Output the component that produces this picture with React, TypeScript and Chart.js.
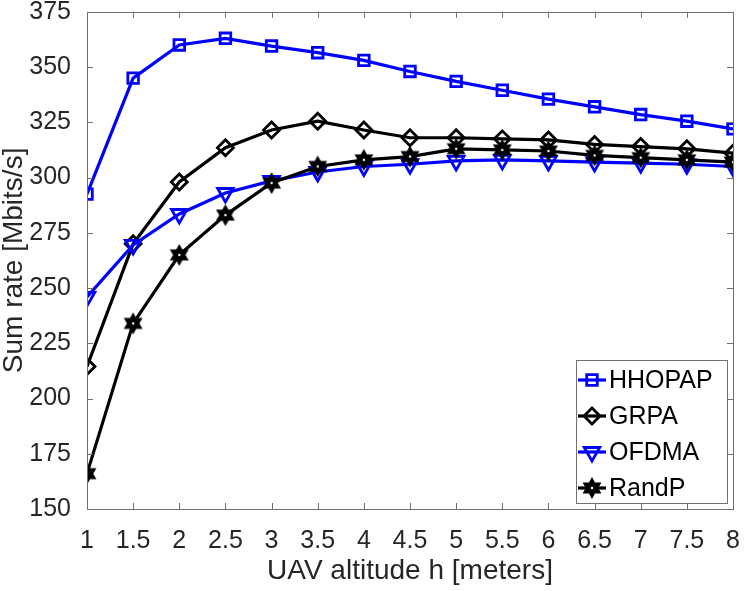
import React, { useEffect, useRef } from 'react';
import { Chart, registerables } from 'chart.js';

Chart.register(...registerables);

// altitude h [meters]
const altitudes = [1, 1.5, 2, 2.5, 3, 3.5, 4, 4.5, 5, 5.5, 6, 6.5, 7, 7.5, 8];
const yTicks = [150, 175, 200, 225, 250, 275, 300, 325, 350, 375];

// sum rate [Mbits/s]
const hhopap = [292.5, 345, 360, 363, 359.5, 356.5, 353, 348, 343.5, 339.5, 335.5, 332, 328.5, 325.5, 322];
const grpa = [214.5, 270, 298, 313.5, 321.5, 325.5, 321.5, 318, 318, 317.5, 317, 315, 314, 313, 311];
const ofdma = [246, 269.5, 283.5, 293, 298.5, 302.5, 305, 306, 307.5, 308, 307.5, 307, 306.5, 306, 305];
const randp = [166, 234, 265, 283, 297.5, 305, 308, 309.5, 313, 312.5, 312, 310, 309, 308, 307];

const FONT = "'Liberation Sans', Arial, Helvetica, sans-serif";
const AXIS_COLOR = '#262626';
const FRAME_COLOR = '#707070';

// six-pointed star like the matlab 'h' marker
function makeHexagram(color: string) {
  const c = document.createElement('canvas');
  c.width = 24;
  c.height = 24;
  const ctx = c.getContext('2d')!;
  const R = 8.5;
  const r = R / Math.sqrt(3);
  ctx.beginPath();
  for (let i = 0; i < 12; i++) {
    const a = -Math.PI / 2 + (i * Math.PI) / 6;
    const rad = i % 2 === 0 ? R : r;
    const px = 12 + Math.cos(a) * rad;
    const py = 12 + Math.sin(a) * rad;
    if (i === 0) ctx.moveTo(px, py);
    else ctx.lineTo(px, py);
  }
  ctx.closePath();
  ctx.lineJoin = 'miter';
  ctx.fillStyle = color;
  ctx.fill();
  ctx.lineWidth = 2.4;
  ctx.strokeStyle = color;
  ctx.stroke();
  // small light spot in the middle, as in the original
  ctx.fillStyle = '#ffffff';
  ctx.beginPath();
  ctx.arc(12, 12, 1.2, 0, Math.PI * 2);
  ctx.fill();
  return c;
}

function drawMarker(ctx: CanvasRenderingContext2D, ds: any, x: number, y: number) {
  const style = ds.pointStyle;
  const r = ds.pointRadius;
  ctx.save();
  ctx.strokeStyle = ds.pointBorderColor;
  ctx.lineWidth = ds.pointBorderWidth;
  if (typeof style === 'object') {
    ctx.drawImage(style, x - style.width / 2, y - style.height / 2);
    ctx.restore();
    return;
  }
  ctx.beginPath();
  if (style === 'rect') {
    const s = r * Math.SQRT1_2;
    ctx.rect(x - s, y - s, 2 * s, 2 * s);
  } else if (style === 'rectRot') {
    ctx.moveTo(x, y - r);
    ctx.lineTo(x + r, y);
    ctx.lineTo(x, y + r);
    ctx.lineTo(x - r, y);
    ctx.closePath();
  } else if (style === 'triangle') {
    let a = ((ds.pointRotation || 0) * Math.PI) / 180;
    for (let i = 0; i < 3; i++) {
      const px = x + Math.sin(a) * r;
      const py = y - Math.cos(a) * r;
      if (i === 0) ctx.moveTo(px, py);
      else ctx.lineTo(px, py);
      a += (2 * Math.PI) / 3;
    }
    ctx.closePath();
  }
  ctx.stroke();
  ctx.restore();
}

// box round the axes with inward tick marks, matlab style
const framePlugin = {
  id: 'frame',
  afterDatasetsDraw(chart: any) {
    const { ctx, chartArea: a, scales } = chart;
    const len = 6;
    ctx.save();
    ctx.strokeStyle = FRAME_COLOR;
    ctx.lineWidth = 1;
    ctx.beginPath();
    scales.x.ticks.forEach((t: any) => {
      const px = Math.round(scales.x.getPixelForValue(t.value)) + 0.5;
      ctx.moveTo(px, a.bottom);
      ctx.lineTo(px, a.bottom - len);
      ctx.moveTo(px, a.top);
      ctx.lineTo(px, a.top + len);
    });
    scales.y.ticks.forEach((t: any) => {
      const py = Math.round(scales.y.getPixelForValue(t.value)) + 0.5;
      ctx.moveTo(a.left, py);
      ctx.lineTo(a.left + len, py);
      ctx.moveTo(a.right, py);
      ctx.lineTo(a.right - len, py);
    });
    ctx.stroke();
    ctx.strokeRect(Math.round(a.left) + 0.5, Math.round(a.top) + 0.5, Math.round(a.right - a.left), Math.round(a.bottom - a.top));
    ctx.restore();
  },
};

const legendPlugin = {
  id: 'boxLegend',
  afterDraw(chart: any) {
    const { ctx } = chart;
    const datasets = chart.data.datasets;
    const left = 576;
    const top = 360;
    const width = 151;
    const height = 143;
    ctx.save();
    ctx.fillStyle = '#ffffff';
    ctx.fillRect(left, top, width, height);
    ctx.strokeStyle = FRAME_COLOR;
    ctx.lineWidth = 1;
    ctx.strokeRect(left + 0.5, top + 0.5, width, height);
    datasets.forEach((ds: any, i: number) => {
      const y = top + 20 + i * 36;
      ctx.strokeStyle = ds.borderColor;
      ctx.lineWidth = ds.borderWidth;
      ctx.beginPath();
      ctx.moveTo(left + 2, y);
      ctx.lineTo(left + 30, y);
      ctx.stroke();
      drawMarker(ctx, ds, left + 16, y);
      ctx.fillStyle = '#000000';
      ctx.font = `25px ${FONT}`;
      ctx.textBaseline = 'middle';
      ctx.textAlign = 'left';
      ctx.fillText(ds.label, left + 33, y + 1);
    });
    ctx.restore();
  },
};

const App = () => {
  const canvasRef = useRef<HTMLCanvasElement | null>(null);

  useEffect(() => {
    document.body.style.margin = '0';
    if (!canvasRef.current) return;
    const hexagram = makeHexagram('#000000');

    const line = (label: string, data: number[], color: string, style: any, radius: number, order: number, extra = {}) => ({
      label,
      data: altitudes.map((x, i) => ({ x, y: data[i] })),
      borderColor: color,
      borderWidth: 3.2,
      pointStyle: style,
      pointRadius: radius,
      pointHoverRadius: radius,
      pointBorderColor: color,
      pointBorderWidth: 2.8,
      pointBackgroundColor: 'rgba(0,0,0,0)',
      tension: 0,
      order,
      ...extra,
    });

    const chart = new Chart(canvasRef.current, {
      type: 'line',
      data: {
        datasets: [
          line('HHOPAP', hhopap, '#0000ff', 'rect', 7.5, 4),
          line('GRPA', grpa, '#000000', 'rectRot', 8, 3),
          line('OFDMA', ofdma, '#0000ff', 'triangle', 9, 2, { pointRotation: 180 }),
          line('RandP', randp, '#000000', hexagram, 9, 1),
        ] as any,
      },
      options: {
        responsive: false,
        animation: false,
        layout: { padding: { top: 9, right: 14, left: 0, bottom: 0 } },
        plugins: {
          legend: { display: false },
          tooltip: { enabled: false },
        },
        scales: {
          x: {
            type: 'linear',
            min: 1,
            max: 8,
            afterBuildTicks: (scale: any) => {
              scale.ticks = altitudes.map((v) => ({ value: v }));
            },
            ticks: {
              autoSkip: false,
              maxRotation: 0,
              padding: 9,
              color: AXIS_COLOR,
              font: { family: FONT, size: 25 },
              callback: (v: any) => String(v),
            },
            grid: { display: false },
            border: { display: false },
            title: {
              display: true,
              text: 'UAV altitude h [meters]',
              color: AXIS_COLOR,
              font: { family: FONT, size: 28, lineHeight: 1 },
              padding: { top: 0, bottom: 6 },
            },
            afterFit: (scale: any) => {
              scale.height = 82;
              scale.paddingLeft = 0;
              scale.paddingRight = 0;
            },
          },
          y: {
            min: 150,
            max: 375,
            afterBuildTicks: (scale: any) => {
              scale.ticks = yTicks.map((v) => ({ value: v }));
            },
            ticks: {
              padding: 8,
              color: AXIS_COLOR,
              font: { family: FONT, size: 25 },
              callback: (v: any) => String(v),
            },
            grid: { display: false },
            border: { display: false },
            title: {
              display: true,
              text: 'Sum rate [Mbits/s]',
              color: AXIS_COLOR,
              font: { family: FONT, size: 28, lineHeight: 1 },
              padding: { top: 0, bottom: 0 },
            },
            afterFit: (scale: any) => {
              scale.width = 87;
              scale.paddingTop = 0;
              scale.paddingBottom = 0;
            },
          },
        },
      },
      plugins: [framePlugin, legendPlugin],
    });

    return () => {
      chart.destroy();
    };
  }, []);

  return (
    <div style={{ width: 747, height: 591, background: '#ffffff' }}>
      <canvas ref={canvasRef} width={747} height={591}></canvas>
    </div>
  );
};

export default App;
